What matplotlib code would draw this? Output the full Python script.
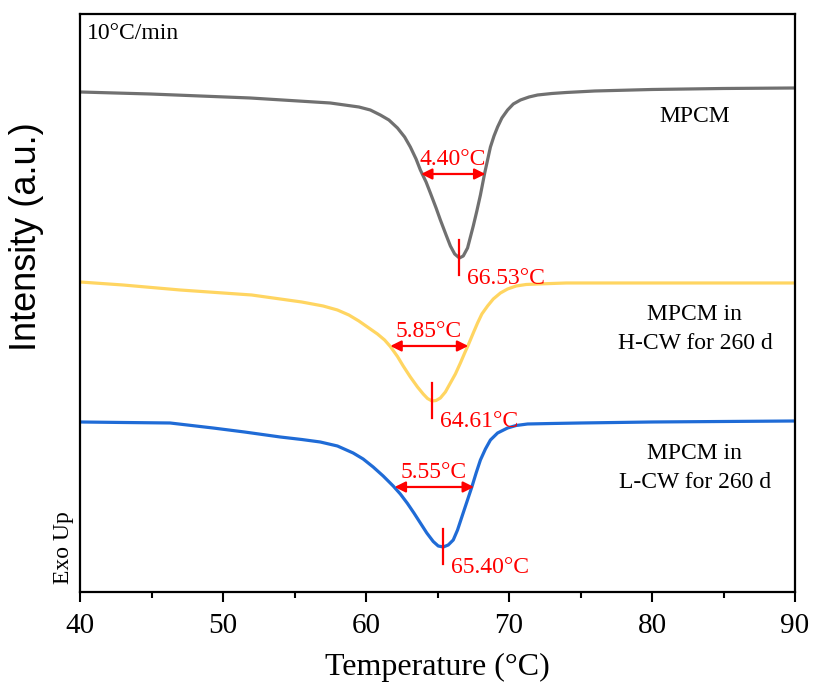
import numpy as np
import matplotlib
matplotlib.use("Agg")
import matplotlib.pyplot as plt

# DSC curves (temperature in C, intensity in arbitrary units)
t_mpcm = [40.0, 44.9, 51.9, 57.5, 58.5, 59.5, 60.3, 61.0, 61.6, 62.2, 62.7, 63.1,
          63.5, 63.8, 64.2, 64.5, 64.9, 65.2, 65.6, 65.9, 66.2, 66.53, 66.8, 67.1,
          67.3, 67.5, 67.75, 68.0, 68.3, 68.5, 68.7, 68.95, 69.2, 69.5, 69.9, 70.3,
          70.8, 71.4, 72.0, 73.0, 74.0, 76.0, 80.0, 85.0, 90.0]
i_mpcm = [500, 498, 494, 489, 487, 485, 482, 477, 472, 464, 455, 445,
          433, 422, 410, 399, 384, 372, 357, 346, 338, 334, 336, 344,
          355, 366, 381, 397, 419, 432, 445, 456, 465, 474, 482, 488,
          492, 495, 497, 498.5, 499.5, 501, 502.5, 503.5, 504]

t_hcw = [40.0, 43.0, 47.0, 50.0, 52.0, 54.0, 55.5, 57.0, 58.0, 58.8, 59.5, 60.2,
         60.8, 61.3, 61.7, 62.2, 62.6, 63.1, 63.6, 64.0, 64.3, 64.61, 64.9, 65.2,
         65.55, 65.9, 66.25, 66.6, 66.9, 67.15, 67.5, 67.8, 68.1, 68.5, 68.9, 69.4,
         69.9, 70.5, 71.2, 72.0, 74.0, 80.0, 90.0]
i_hcw = [310, 307, 302, 299, 297, 293, 290, 286, 282, 277, 271, 264,
         258, 252, 245.5, 235.5, 226, 215, 205, 198, 193.5, 191, 191.5, 194,
         200, 209, 218, 229, 239, 247, 259, 269, 278, 286, 293, 299,
         303, 306, 307.5, 308, 309, 309, 309]

t_lcw = [40.0, 43.0, 46.3, 47.5, 49.3, 51.5, 54.0, 55.5, 56.8, 58.0, 59.1, 59.8,
         60.5, 61.2, 61.9, 62.4, 62.9, 63.35, 63.8, 64.25, 64.7, 65.05, 65.40, 65.75,
         66.1, 66.4, 66.7, 67.05, 67.4, 67.7, 68.0, 68.35, 68.7, 69.2, 69.9, 70.5,
         71.3, 73.0, 75.0, 80.0, 90.0]
i_lcw = [170, 169.5, 169, 167, 164, 160, 155, 152.5, 150, 146, 139, 133,
         125, 116, 106, 98, 88.5, 79, 69, 59, 50.5, 46, 45, 47,
         52, 62, 75, 90, 105, 119, 132, 143, 152, 159, 164, 166.5,
         168, 168.5, 169, 170, 171]

peak_labels = ["66.53°C", "64.61°C", "65.40°C"]
width_labels = ["4.40°C", "5.85°C", "5.55°C"]
# half-height arrow ends (C) and level
arrow_left = [63.85, 61.7, 62.0]
arrow_right = [68.35, 67.15, 67.55]
arrow_level = [418, 246, 105]

names = ["MPCM", "MPCM in\nH-CW for 260 d", "MPCM in\nL-CW for 260 d"]
colors = ["#707070", "#FFD561", "#1F6BD6"]

serif = "Liberation Serif"
red = "#FF0000"

fig = plt.figure(figsize=(8.13, 6.89), dpi=100)
ax = fig.add_axes([0.0984, 0.1408, 0.8795, 0.8389])

curves = [(t_mpcm, i_mpcm), (t_hcw, i_hcw), (t_lcw, i_lcw)]
for k, (t, inten) in enumerate(curves):
    ax.plot(t, inten, color=colors[k], lw=2.3, solid_joinstyle="round")

    j = int(np.argmin(inten))
    tp, ip = t[j], inten[j]
    # peak marker
    ax.plot([tp, tp], [ip - 17, ip + 18], color=red, lw=1.6)
    ax.text(tp + 0.55, ip - 21, peak_labels[k], color=red, fontsize=17,
            family=serif, ha="left", va="center")
    # width arrow
    ax.annotate("", xy=(arrow_left[k], arrow_level[k]),
                xytext=(arrow_right[k], arrow_level[k]),
                arrowprops=dict(arrowstyle="<|-|>", color=red, lw=1.6,
                                mutation_scale=16, shrinkA=0, shrinkB=0))
    ax.text((arrow_left[k] + arrow_right[k]) / 2 - 0.05, arrow_level[k] + 4,
            width_labels[k], color=red, fontsize=17, family=serif,
            ha="center", va="bottom")

label_y = [475, 263, 124]
for k in range(3):
    ax.text(83.0, label_y[k], names[k], fontsize=17, family=serif,
            ha="center", va="center", multialignment="center", linespacing=1.55)

ax.text(40.45, 558, "10°C/min", fontsize=17, family=serif, ha="left", va="center")

ax.set_xlim(40, 90)
ax.set_ylim(0, 578)
ax.set_xticks([40, 50, 60, 70, 80, 90])
ax.set_xticks([45, 55, 65, 75, 85], minor=True)
ax.set_yticks([])
ax.tick_params(axis="x", which="major", direction="out", length=7, width=1.5,
               labelsize=21, pad=8)
ax.tick_params(axis="x", which="minor", direction="out", length=4, width=1.5)
for lab in ax.get_xticklabels():
    lab.set_family(serif)
for sp in ax.spines.values():
    sp.set_linewidth(1.6)

ax.set_xlabel("Temperature (°C)", fontsize=23, family=serif, labelpad=10)
fig.text(0.032, 0.657, "Intensity (a.u.)", rotation=90, fontsize=26,
         family="Liberation Sans", ha="center", va="center")
fig.text(0.078, 0.205, "Exo Up", rotation=90, fontsize=17, family=serif,
         ha="center", va="center")

fig.savefig("out.png", dpi=100)
